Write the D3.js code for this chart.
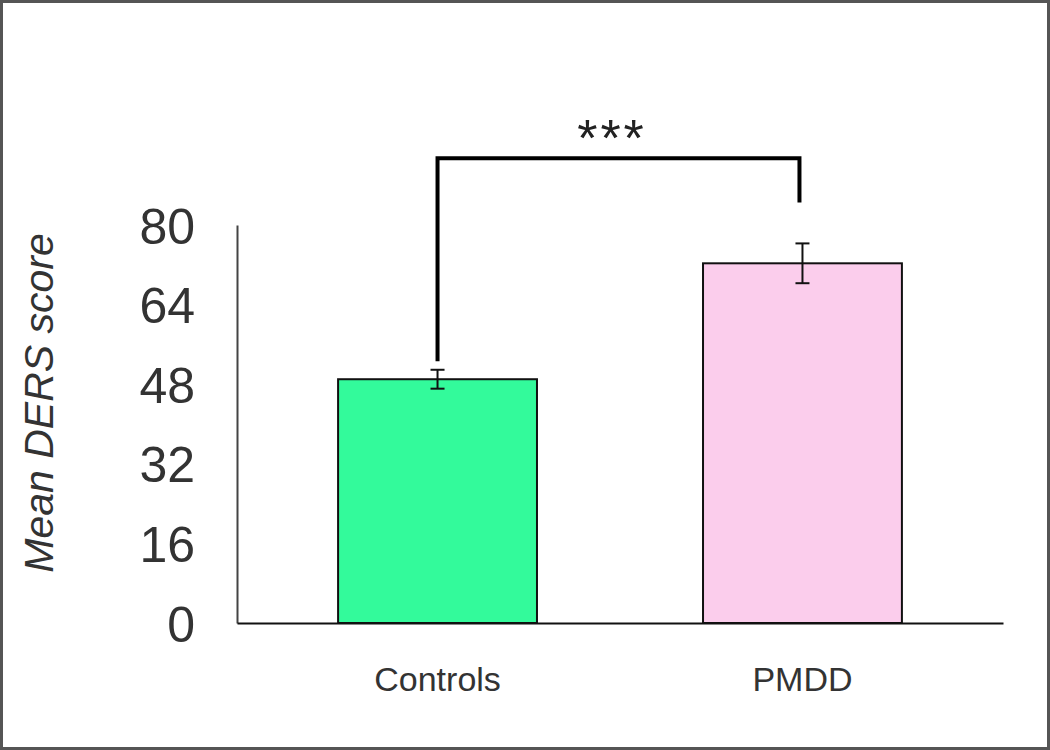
<!DOCTYPE html>
<html>
<head>
<meta charset="utf-8">
<script src="https://cdn.jsdelivr.net/npm/d3@7"></script>
<style>
  body { margin: 0; background: #fff; }
  svg { display: block; font-family: "Liberation Sans", Arial, sans-serif; }
</style>
</head>
<body>
<div id="chart"></div>
<script>
// data
var groups = ["Controls", "PMDD"];
var means = [49.0, 72.3];
var errors = [1.9, 4.0];
var barColors = ["#33fa9b", "#fbcdec"];
var yTicks = [0, 16, 32, 48, 64, 80];
// significance bracket: top level and where each leg stops (in score units)
var bracketTop = 93.4;
var bracketEnds = [52.6, 84.5];
var sigLabel = "***";

var svgWidth = 1050;
var svgHeight = 750;
var axisLeftX = 237;
var axisRightX = 1003;
var axisBottomY = 623;
var axisTopY = 225;

var svg = d3.select("#chart")
    .append("svg")
    .attr("width", svgWidth)
    .attr("height", svgHeight);

// frame round the picture
svg.append("rect")
    .attr("x", 1.5)
    .attr("y", 1.5)
    .attr("width", svgWidth - 3)
    .attr("height", svgHeight - 3)
    .attr("fill", "none")
    .attr("stroke", "#555")
    .attr("stroke-width", 3);

var xScale = d3.scaleBand()
    .domain(groups)
    .range([axisLeftX, axisRightX])
    .paddingInner(0.455)
    .paddingOuter(0.277);

var yScale = d3.scaleLinear()
    .domain([0, 80])
    .range([axisBottomY, axisTopY]);

var data = groups.map((g, i) => ({group: g, mean: means[i], err: errors[i], color: barColors[i]}));

// bars
svg.append("g").selectAll("rect")
    .data(data)
    .enter()
    .append("rect")
    .attr("x", d => xScale(d.group))
    .attr("y", d => yScale(d.mean))
    .attr("width", xScale.bandwidth())
    .attr("height", d => yScale(0) - yScale(d.mean))
    .attr("fill", d => d.color)
    .attr("stroke", "#111")
    .attr("stroke-width", 2);

// error bars
var capW = 14;
var eb = svg.append("g").selectAll("g")
    .data(data)
    .enter()
    .append("g")
    .attr("stroke", "#111")
    .attr("stroke-width", 2);
eb.append("line")
    .attr("x1", d => xScale(d.group) + xScale.bandwidth() / 2)
    .attr("x2", d => xScale(d.group) + xScale.bandwidth() / 2)
    .attr("y1", d => yScale(d.mean + d.err))
    .attr("y2", d => yScale(d.mean - d.err));
eb.append("line")
    .attr("x1", d => xScale(d.group) + xScale.bandwidth() / 2 - capW / 2)
    .attr("x2", d => xScale(d.group) + xScale.bandwidth() / 2 + capW / 2)
    .attr("y1", d => yScale(d.mean + d.err))
    .attr("y2", d => yScale(d.mean + d.err));
eb.append("line")
    .attr("x1", d => xScale(d.group) + xScale.bandwidth() / 2 - capW / 2)
    .attr("x2", d => xScale(d.group) + xScale.bandwidth() / 2 + capW / 2)
    .attr("y1", d => yScale(d.mean - d.err))
    .attr("y2", d => yScale(d.mean - d.err));

// axes
var yAxisCall = d3.axisLeft(yScale)
    .tickValues(yTicks)
    .tickSize(0)
    .tickPadding(42);
var yAxisGroup = svg.append("g")
    .attr("transform", `translate(${axisLeftX},0)`)
    .call(yAxisCall);
yAxisGroup.select(".domain").attr("stroke", "#444").attr("stroke-width", 2);
yAxisGroup.selectAll("text")
    .attr("font-size", "50px")
    .attr("fill", "#333")
    .attr("dy", "0.36em");

var xAxisCall = d3.axisBottom(xScale)
    .tickSize(0)
    .tickPadding(44);
var xAxisGroup = svg.append("g")
    .attr("transform", `translate(0,${axisBottomY})`)
    .call(xAxisCall);
xAxisGroup.select(".domain").attr("stroke", "#111").attr("stroke-width", 2);
xAxisGroup.selectAll("text")
    .attr("font-size", "34px")
    .attr("fill", "#333");

// y axis title
svg.append("text")
    .attr("transform", "translate(53,403) rotate(-90)")
    .attr("text-anchor", "middle")
    .attr("font-size", "41px")
    .attr("font-style", "italic")
    .attr("fill", "#333")
    .text("Mean DERS score");

// significance bracket
var cx = groups.map(g => xScale(g) + xScale.bandwidth() / 2);
var bracket = d3.path();
bracket.moveTo(cx[0], yScale(bracketEnds[0]));
bracket.lineTo(cx[0], yScale(bracketTop));
bracket.lineTo(cx[1] - 3, yScale(bracketTop));
bracket.lineTo(cx[1] - 3, yScale(bracketEnds[1]));
svg.append("path")
    .attr("d", bracket.toString())
    .attr("fill", "none")
    .attr("stroke", "#000")
    .attr("stroke-width", 4);

svg.append("text")
    .attr("x", (cx[0] + cx[1]) / 2 - 8)
    .attr("y", yScale(bracketTop) - 2)
    .attr("text-anchor", "middle")
    .attr("font-size", "52px")
    .attr("letter-spacing", "3px")
    .attr("fill", "#222")
    .text(sigLabel);
</script>
</body>
</html>
